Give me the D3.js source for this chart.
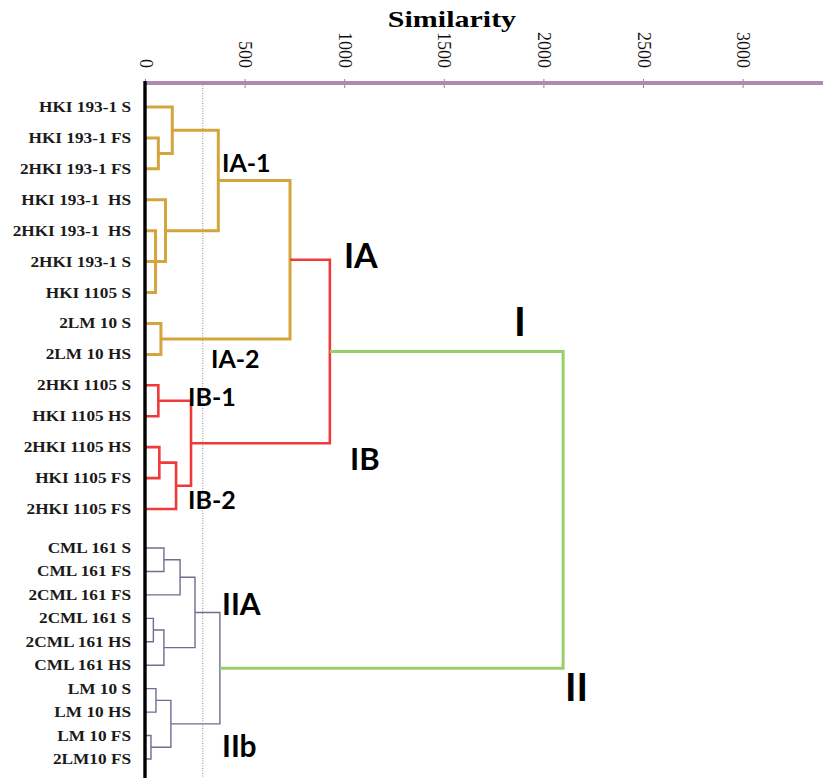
<!DOCTYPE html>
<html>
<head>
<meta charset="utf-8">
<script src="https://cdn.jsdelivr.net/npm/d3@7"></script>
<style>
	body { margin: 0; background: #fff; }
	text { white-space: pre; }
</style>
</head>
<body>
<div id="chart"></div>
<script>
// leaves, top to bottom
const leafNames = [
	"HKI 193-1 S", "HKI 193-1 FS", "2HKI 193-1 FS", "HKI 193-1  HS", "2HKI 193-1  HS",
	"2HKI 193-1 S", "HKI 1105 S", "2LM 10 S", "2LM 10 HS", "2HKI 1105 S",
	"HKI 1105 HS", "2HKI 1105 HS", "HKI 1105 FS", "2HKI 1105 FS",
	"CML 161 S", "CML 161 FS", "2CML 161 FS", "2CML 161 S", "2CML 161 HS",
	"CML 161 HS", "LM 10 S", "LM 10 HS", "LM 10 FS", "2LM10 FS"
];
// first 14 leaves belong to cluster I, the rest to cluster II
const clusterOneSize = 14;

// linkage: [left, right, similarity]; ids >= 24 point to earlier merges
const linkage = [
	[1, 2, 67], [0, 24, 137], [4, 6, 53], [5, 26, 90], [3, 27, 103],
	[25, 28, 368], [7, 8, 80], [29, 30, 728],
	[9, 10, 67], [11, 12, 72], [33, 13, 156], [32, 34, 231],
	[31, 35, 928],
	[14, 15, 95], [37, 16, 176], [17, 18, 42], [39, 19, 95], [38, 40, 251],
	[20, 21, 55], [22, 23, 30], [42, 43, 130], [41, 44, 376],
	[36, 45, 2099]
];
const mergeGroup = [
	"IA", "IA", "IA", "IA", "IA", "IA", "IA", "IA",
	"IB", "IB", "IB", "IB", "IB",
	"II", "II", "II", "II", "II", "II", "II", "II", "II",
	"root"
];
const xTicks = [0, 500, 1000, 1500, 2000, 2500, 3000];
const cutoff = 290;

const clusterLabels = [
	{ t: "IA-1", x: 222, y: 172, s: 25 },
	{ t: "IA", x: 344, y: 268, s: 34 },
	{ t: "I", x: 514, y: 336, s: 40 },
	{ t: "IA-2", x: 211, y: 368, s: 25 },
	{ t: "IB-1", x: 188, y: 406, s: 25 },
	{ t: "IB", x: 350, y: 470, s: 31 },
	{ t: "IB-2", x: 188, y: 509, s: 25 },
	{ t: "IIA", x: 222, y: 615, s: 30 },
	{ t: "II", x: 565, y: 701, s: 39 },
	{ t: "IIb", x: 222, y: 757, s: 30 }
];

const width = 823, height = 778;
const axisY = 83;

let svg = d3.select("#chart").append("svg")
	.attr("width", width)
	.attr("height", height);

svg.append("rect").attr("width", width).attr("height", height).attr("fill", "#fff");

let x = d3.scaleLinear()
	.domain([0, 500])
	.range([145, 244.6]);

let yOne = d3.scalePoint()
	.domain(d3.range(clusterOneSize))
	.range([107, 509]);
let yTwo = d3.scalePoint()
	.domain(d3.range(clusterOneSize, leafNames.length))
	.range([548, 759]);

function leafY(i) {
	return i < clusterOneSize ? yOne(i) : yTwo(i);
}

let colour = d3.scaleOrdinal()
	.domain(["IA", "IB", "II", "root"])
	.range(["#D4A53C", "#F03A3A", "#6E6D94", "#98CF68"]);
let strokeW = d3.scaleOrdinal()
	.domain(["IA", "IB", "II", "root"])
	.range([3, 2.6, 1.4, 3]);

// node positions
let nodes = leafNames.map((name, i) => ({ x: x(0), y: leafY(i) }));
linkage.forEach(function(m) {
	let a = nodes[m[0]], b = nodes[m[1]];
	nodes.push({ x: x(m[2]), y: (a.y + b.y) / 2 });
});

// axis
let axis = d3.axisTop(x).tickValues(xTicks).tickSize(0).tickFormat(d3.format("d"));
let ag = svg.append("g")
	.attr("transform", "translate(0," + axisY + ")")
	.call(axis);
ag.select(".domain").remove();
ag.append("line")
	.attr("x1", x(0)).attr("x2", width)
	.attr("stroke", "#B08AAE").attr("stroke-width", 4);
ag.selectAll(".tick line")
	.attr("y1", -4).attr("y2", 5)
	.attr("stroke", "#8a8a8a").attr("stroke-width", 1)
	.raise();
ag.selectAll(".tick text")
	.attr("font-family", "Liberation Serif")
	.attr("font-size", 18)
	.attr("fill", "#111")
	.attr("text-anchor", "end")
	.attr("y", 0).attr("x", 0).attr("dy", "0.33em")
	.attr("transform", "translate(0,-15) rotate(90)");

svg.append("text")
	.attr("x", 452).attr("y", 27)
	.attr("text-anchor", "middle")
	.attr("font-family", "Liberation Serif")
	.attr("font-weight", "bold")
	.attr("font-size", 24)
	.attr("transform", "translate(452,27) scale(1.25,1) translate(-452,-27)")
	.text("Similarity");

// cutoff line
svg.append("line")
	.attr("x1", x(cutoff)).attr("x2", x(cutoff))
	.attr("y1", axisY).attr("y2", height)
	.attr("stroke", "#8c8c8c").attr("stroke-width", 1)
	.attr("stroke-dasharray", "1,1.5");

// dendrogram elbows
let dg = svg.append("g").attr("fill", "none");
linkage.forEach(function(m, k) {
	let p = nodes[leafNames.length + k];
	let a = nodes[m[0]], b = nodes[m[1]];
	let g = mergeGroup[k];
	dg.append("path")
		.attr("d", "M" + a.x + "," + a.y + "H" + p.x + "V" + b.y + "H" + b.x)
		.attr("stroke", colour(g))
		.attr("stroke-width", strokeW(g))
		.attr("stroke-linejoin", "miter");
});

// black left axis
svg.append("line")
	.attr("x1", x(0)).attr("x2", x(0))
	.attr("y1", axisY - 2).attr("y2", height)
	.attr("stroke", "#000").attr("stroke-width", 3.4);

// leaf labels
svg.append("g").selectAll("text")
	.data(leafNames)
	.enter().append("text")
		.attr("transform", (d, i) => "translate(131," + (leafY(i) + 5) + ") scale(1.15,1)")
		.attr("text-anchor", "end")
		.attr("font-family", "Liberation Serif")
		.attr("font-weight", "bold")
		.attr("font-size", 15)
		.attr("fill", "#1a1a1a")
		.text(d => d);

// cluster names
svg.append("g").selectAll("text")
	.data(clusterLabels)
	.enter().append("text")
		.attr("x", d => d.x)
		.attr("y", d => d.y)
		.attr("font-family", "Lato")
		.attr("font-weight", "bold")
		.attr("font-size", d => d.s)
		.attr("fill", "#000")
		.text(d => d.t);
</script>
</body>
</html>
